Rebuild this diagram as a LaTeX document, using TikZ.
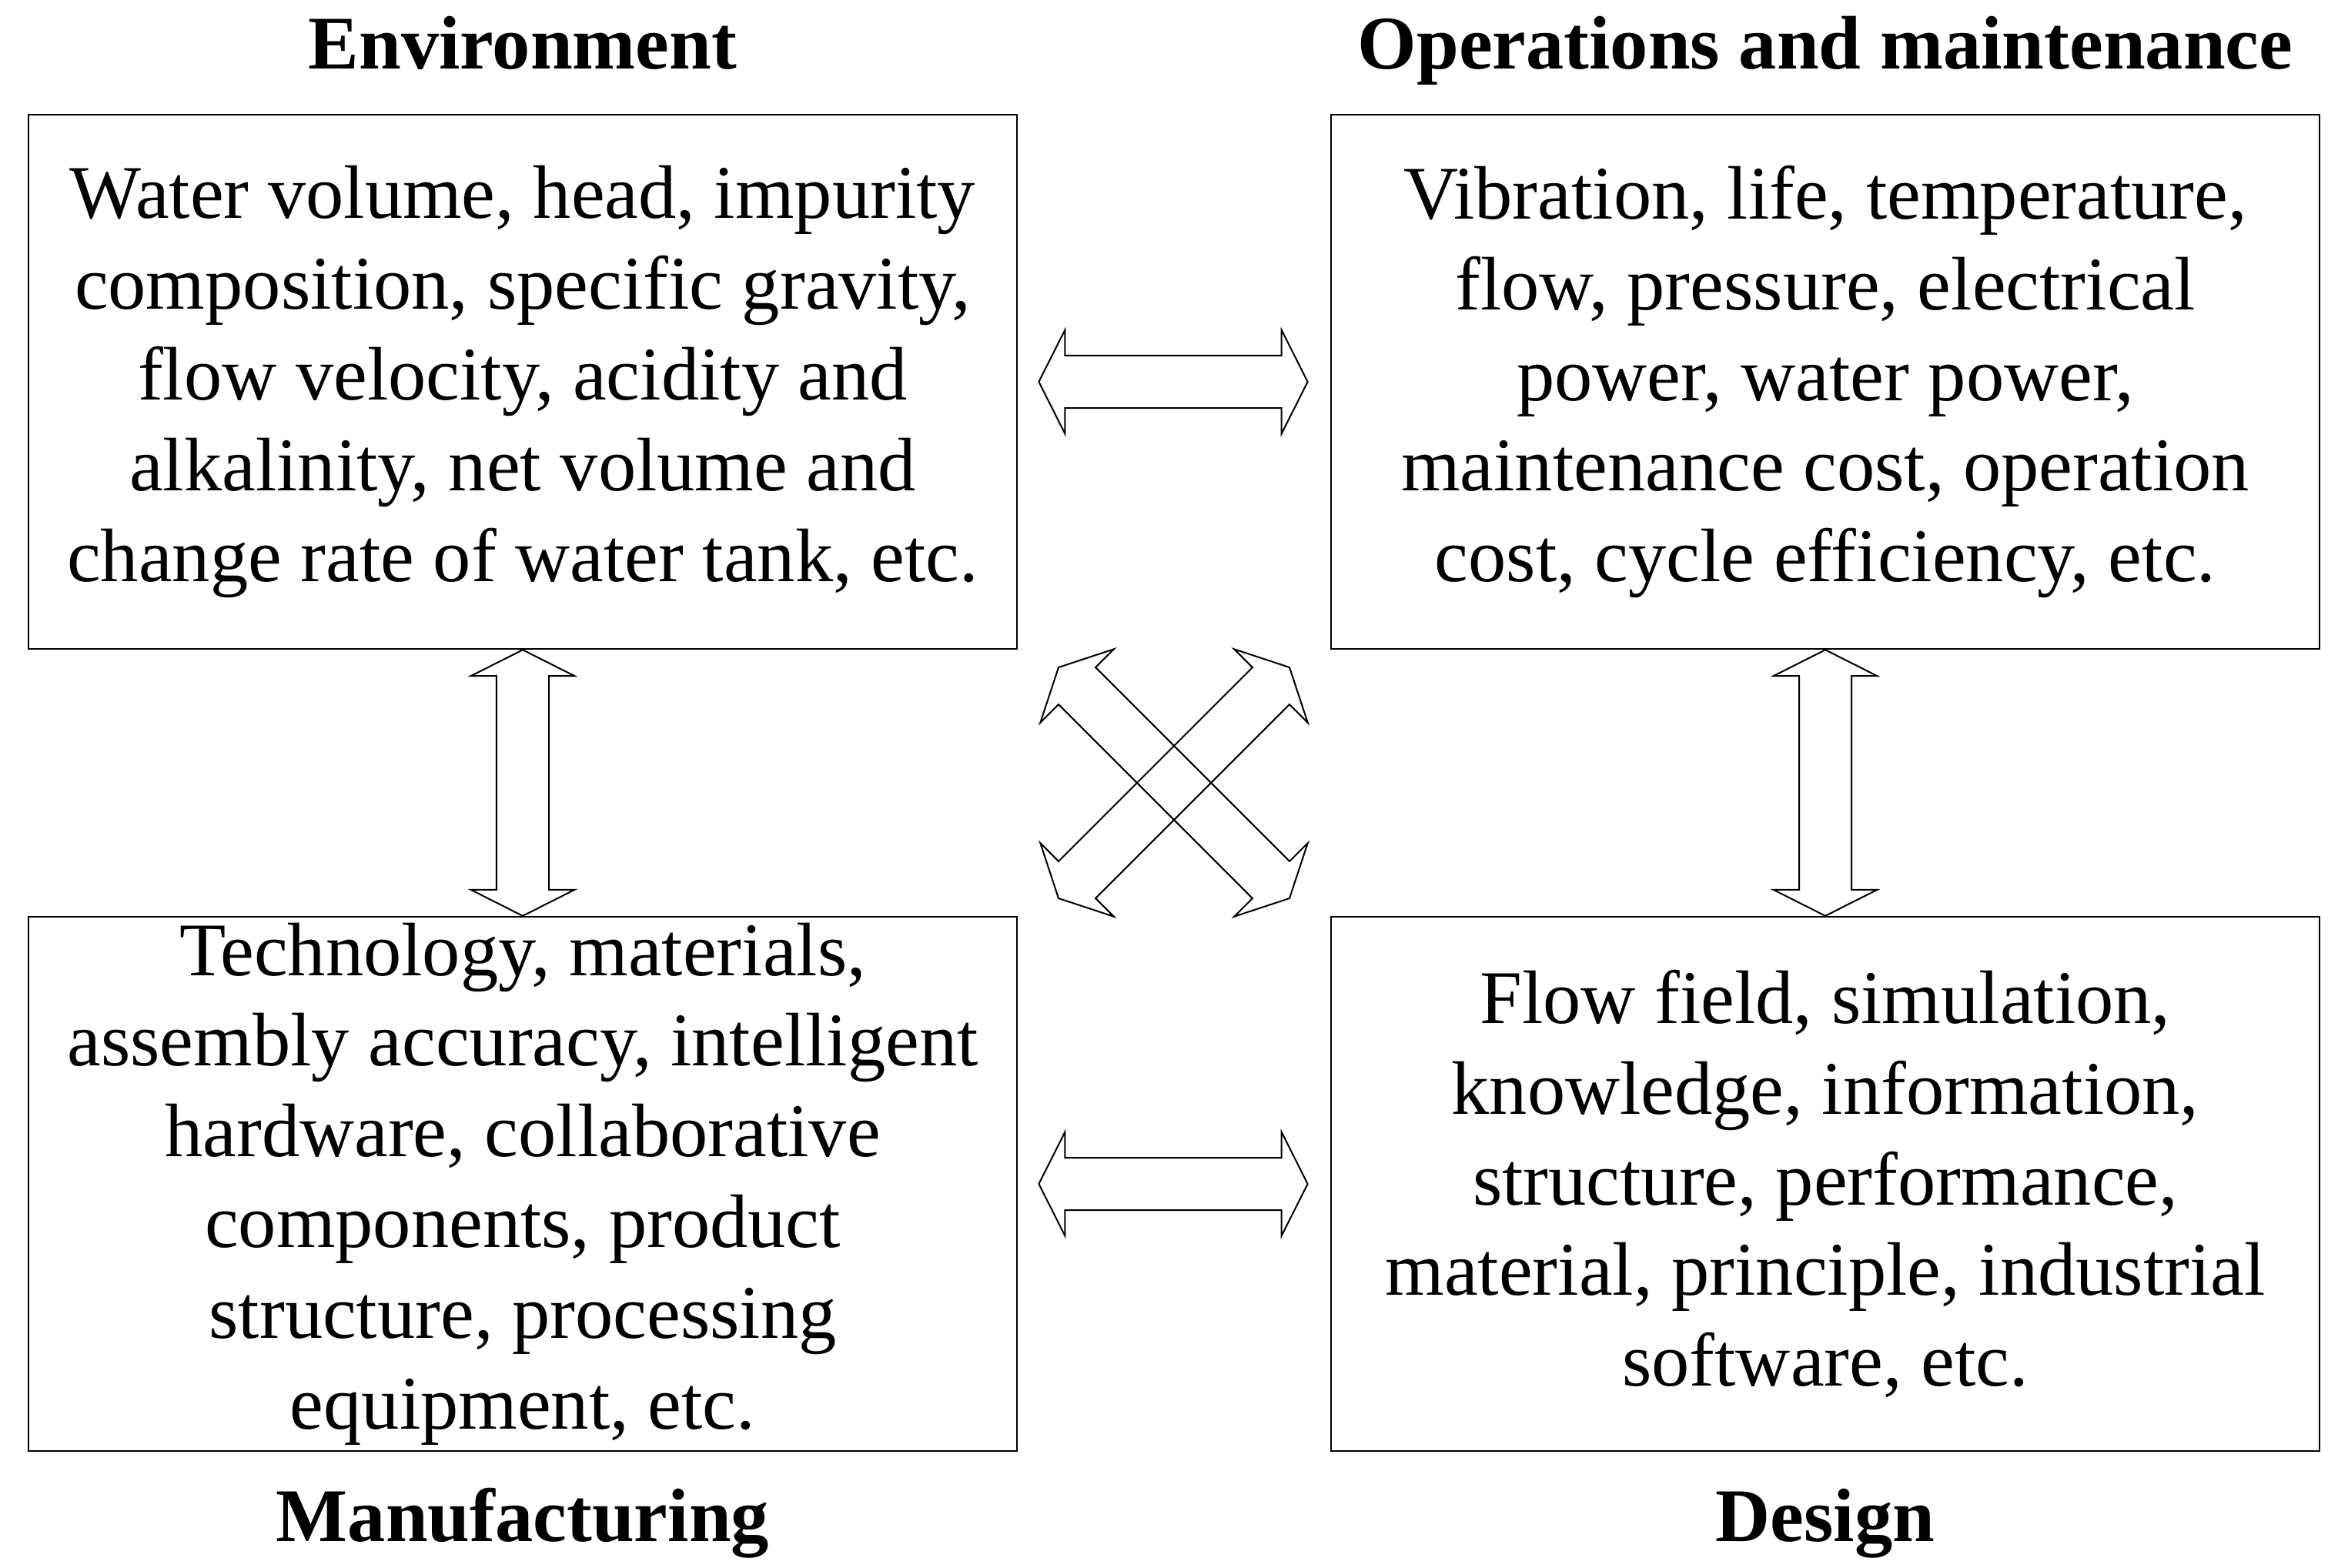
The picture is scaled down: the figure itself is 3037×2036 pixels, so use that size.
\documentclass[tikz,border=0pt]{standalone}
\usepackage{fontspec}
\setmainfont[Ligatures=NoCommon]{Liberation Serif}
\usetikzlibrary{calc}

% double block arrow between two points
\newcommand{\dblarrow}[2]{%
\draw[blockarr] (#1)
 -- ($(#1)!\hl!(#2)!\hw!90:(#2)$) -- ($(#1)!\hl!(#2)!\sw!90:(#2)$)
 -- ($(#2)!\hl!(#1)!\sw!-90:(#1)$) -- ($(#2)!\hl!(#1)!\hw!-90:(#1)$)
 -- (#2)
 -- ($(#2)!\hl!(#1)!\hw!90:(#1)$) -- ($(#2)!\hl!(#1)!\sw!90:(#1)$)
 -- ($(#1)!\hl!(#2)!\sw!-90:(#2)$) -- ($(#1)!\hl!(#2)!\hw!-90:(#2)$)
 -- cycle;}

\begin{document}
\begin{tikzpicture}[x=0.01cm,y=-0.01cm,
 box/.style={draw,line width=0.57pt,minimum width=12.84cm,minimum height=6.94cm,
   align=center,inner sep=0pt,font=\fontsize{28}{33.5}\selectfont},
 title/.style={anchor=base,font=\fontsize{28}{33.5}\selectfont\bfseries},
 blockarr/.style={line width=0.57pt,line join=miter}]
\def\hl{0.34cm}
\def\hw{0.675cm}
\def\sw{0.34cm}
\useasboundingbox (0,0) rectangle (3037,2036);
\begin{scope}
\node[box] (env) at (679,496) {Water volume, head, impurity\\composition, specific gravity,\\flow velocity, acidity and\\alkalinity, net volume and\\change rate of water tank, etc.};
\node[box] (ops) at (2371,496) {Vibration, life, temperature,\\flow, pressure, electrical\\power, water power,\\maintenance cost, operation\\cost, cycle efficiency, etc.};
\node[box] (man) at (679,1538) {Technology, materials,\\assembly accuracy, intelligent\\hardware, collaborative\\components, product\\structure, processing\\equipment, etc.};
\node[box] (des) at (2371,1538) {Flow field, simulation,\\knowledge, information,\\structure, performance,\\material, principle, industrial\\software, etc.};
\node[title] (envt) at (679,89) {Environment};
\node[title] (opst) at (2371,89) {Operations and maintenance};
\node[title] (mant) at (679,2002) {Manufacturing};
\node[title] (dest) at (2371,2002) {Design};
\end{scope}
\coordinate (mid) at ($(env.south east)!0.5!(des.north west)$);
\coordinate (a1) at ([xshift=0.27cm]env.east);
\coordinate (a2) at ([xshift=-0.29cm]ops.west);
\coordinate (b1) at ([xshift=0.27cm]man.east);
\coordinate (b2) at ([xshift=-0.29cm]des.west);
\coordinate (nw) at ($(mid)+(-150,-150)$);
\coordinate (se) at ($(mid)+(150,150)$);
\coordinate (ne) at ($(mid)+(150,-150)$);
\coordinate (sw) at ($(mid)+(-150,150)$);
\dblarrow{a1}{a2}
\dblarrow{b1}{b2}
\dblarrow{env.south}{man.north}
\dblarrow{ops.south}{des.north}
\dblarrow{nw}{se}
\dblarrow{sw}{ne}
\end{tikzpicture}
\end{document}
